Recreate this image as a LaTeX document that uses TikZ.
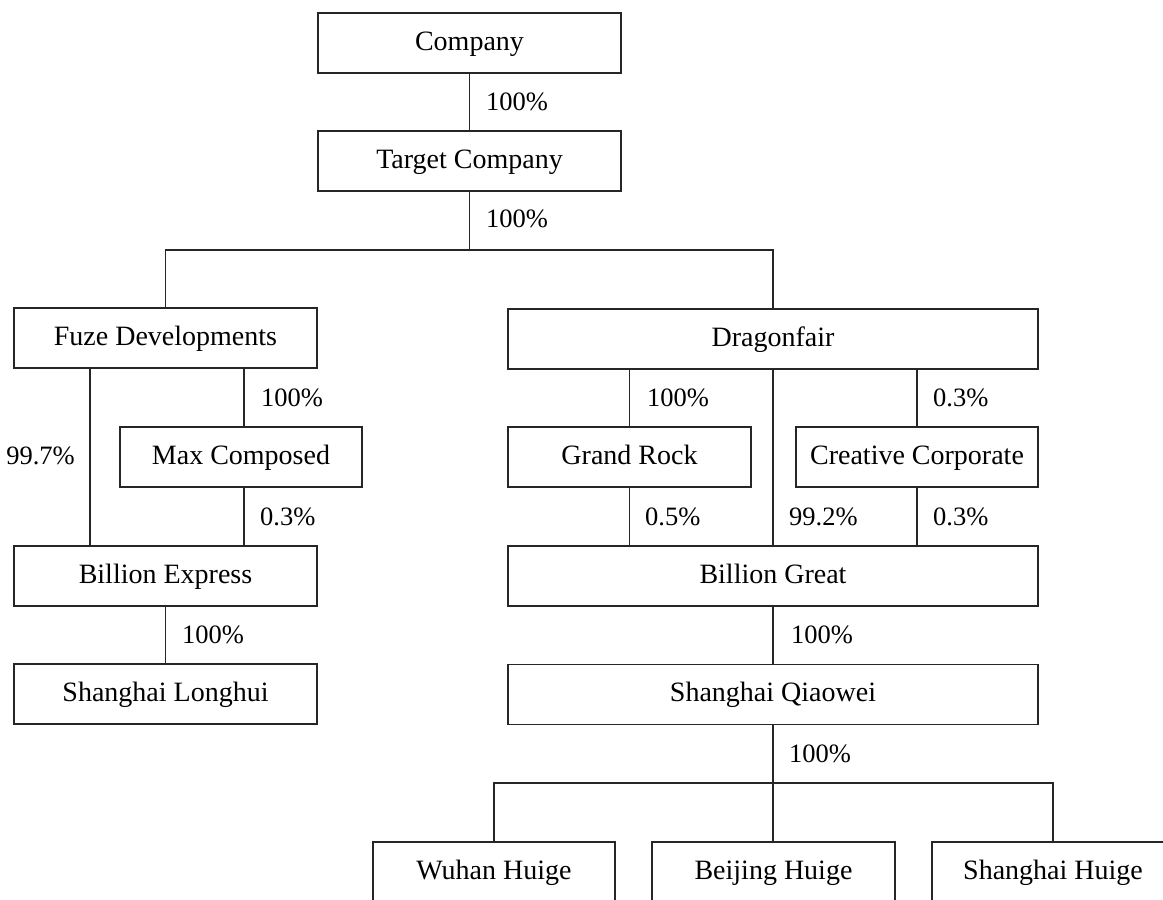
\documentclass[tikz,border=0pt]{standalone}
\usepackage{fontspec}
\setmainfont{Liberation Serif}
\begin{document}
\begin{tikzpicture}[x=1pt,y=-1pt,
  box/.style={draw=black!85, line width=1.1pt, minimum height=60pt, inner sep=0pt,
    text height=18pt, text depth=4pt,
    font=\fontsize{28}{30}\selectfont, fill=white},
  lbl/.style={inner sep=0pt, font=\fontsize{26.5}{29}\selectfont},
  conn/.style={draw=black!85, line width=1.1pt}]
\useasboundingbox (0,0) rectangle (1163,900);
\clip (0,0) rectangle (1163,900);
% boxes
\node[box, minimum width=303pt] (comp) at (469.5,43) {Company};
\node[box, minimum width=303pt] (target) at (469.5,161) {Target Company};
\node[box, minimum width=303pt] (fuze) at (165.5,338) {Fuze Developments};
\node[box, minimum width=530pt] (dragon) at (773,339) {Dragonfair};
\node[box, minimum width=242pt] (max) at (241,457) {Max Composed};
\node[box, minimum width=243pt] (grand) at (629.5,457) {Grand Rock};
\node[box, minimum width=242pt] (creative) at (917,457) {Creative Corporate};
\node[box, minimum width=303pt] (bexp) at (165.5,576) {Billion Express};
\node[box, minimum width=530pt] (bgreat) at (773,576) {Billion Great};
\node[box, minimum width=303pt] (longhui) at (165.5,694) {Shanghai Longhui};
\node[box, minimum width=530pt] (qiao) at (773,694.5) {Shanghai Qiaowei};
\node[box, minimum width=242pt] (wuhan) at (494,872) {Wuhan Huige};
\node[box, minimum width=243pt] (beijing) at (773.5,872) {Beijing Huige};
\node[box, minimum width=242pt] (shh) at (1053,872) {Shanghai Huige};
% helper coordinates
\coordinate (j1) at (469.5,250);
\coordinate (j2) at (773,783);
\coordinate (c90) at (90,0);
\coordinate (c244) at (244,0);
% connectors
\draw[conn] (comp.south) -- (target.north);
\draw[conn] (target.south) -- (j1);
\draw[conn] (fuze.north) |- (j1) -| (dragon.north);
\draw[conn] (fuze.south -| c90) -- (bexp.north -| c90);
\draw[conn] (fuze.south -| c244) -- (max.north -| c244);
\draw[conn] (max.south -| c244) -- (bexp.north -| c244);
\draw[conn] (bexp.south) -- (longhui.north);
\draw[conn] (dragon.south -| grand.north) -- (grand.north);
\draw[conn] (grand.south) -- (bgreat.north -| grand.south);
\draw[conn] (dragon.south) -- (bgreat.north);
\draw[conn] (dragon.south -| creative.north) -- (creative.north);
\draw[conn] (creative.south) -- (bgreat.north -| creative.south);
\draw[conn] (bgreat.south) -- (qiao.north);
\draw[conn] (qiao.south) -- (j2);
\draw[conn] (wuhan.north) |- (j2) -| (shh.north);
\draw[conn] (j2) -- (beijing.north -| j2);
% labels
\node[lbl, anchor=base west] (l1) at (486,110.5) {100\%};
\node[lbl, anchor=base west] (l2) at (486,227.5) {100\%};
\node[lbl, anchor=base west] (l3) at (261,406.5) {100\%};
\node[lbl, anchor=base east] (l4) at (75,464.5) {99.7\%};
\node[lbl, anchor=base west] (l5) at (260,525.5) {0.3\%};
\node[lbl, anchor=base west] (l6) at (182,643.5) {100\%};
\node[lbl, anchor=base west] (l7) at (647,406.5) {100\%};
\node[lbl, anchor=base west] (l8) at (933,406.5) {0.3\%};
\node[lbl, anchor=base west] (l9) at (645,525.5) {0.5\%};
\node[lbl, anchor=base west] (l10) at (789,525.5) {99.2\%};
\node[lbl, anchor=base west] (l11) at (933,525.5) {0.3\%};
\node[lbl, anchor=base west] (l12) at (791,643.5) {100\%};
\node[lbl, anchor=base west] (l13) at (789,762.5) {100\%};
\end{tikzpicture}
\end{document}
